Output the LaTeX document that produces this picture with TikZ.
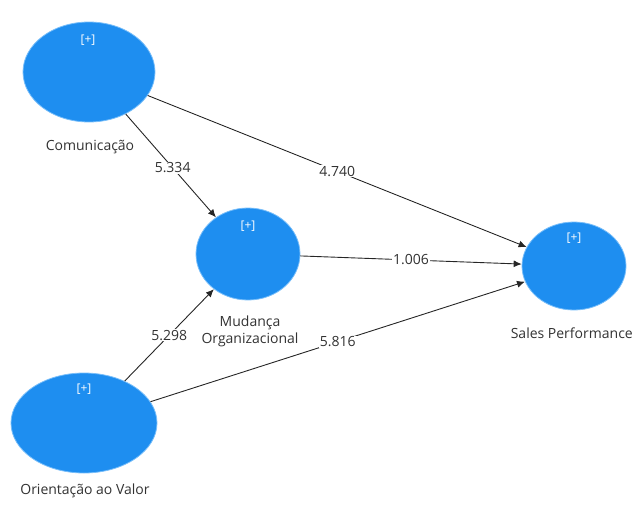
\documentclass[tikz,border=0pt]{standalone}
\usepackage{fontspec}
\setmainfont{Open Sans}
\usetikzlibrary{arrows.meta,shapes.geometric}
\definecolor{lvblue}{RGB}{30,142,240}
\definecolor{lvedge}{RGB}{120,190,250}
\definecolor{txtgray}{RGB}{50,50,50}
\tikzset{
  latent/.style={ellipse, fill=lvblue, draw=lvedge, line width=0.8pt, inner sep=0pt},
  expand/.style={text=white, font=\fontsize{12}{14}\selectfont},
  caption/.style={text=txtgray, font=\fontsize{14}{17}\selectfont, align=center},
  pathline/.style={draw=black!85, line width=0.9pt, -{Latex[length=8pt,width=7pt]}},
  coef/.style={midway, fill=white, inner sep=1pt, text=txtgray, font=\fontsize{14}{15}\selectfont}
}
\begin{document}
\begin{tikzpicture}[x=1pt,y=-1pt]
\useasboundingbox (0,0) rectangle (634,506);
% constructs
\node[latent, minimum width=132pt, minimum height=100pt] (com) at (89,72) {};
\node[latent, minimum width=104pt, minimum height=92pt] (mud) at (248,254) {};
\node[latent, minimum width=104pt, minimum height=88pt] (sal) at (574,266) {};
\node[latent, minimum width=146pt, minimum height=100pt] (ori) at (84,423) {};
% expand markers
\node[expand] (comx) at (88,40) {[+]};
\node[expand] (mudx) at (248,226) {[+]};
\node[expand] (salx) at (574,238) {[+]};
\node[expand] (orix) at (84,389) {[+]};
% construct names
\node[caption] (comlab) at (90,147) {Comunicação};
\node[caption] (mudlab) at (250,331) {Mudança\\Organizacional};
\node[caption, anchor=east, inner xsep=1pt] (sallab) at (634,333) {Sales Performance};
\node[caption] (orilab) at (85,491) {Orientação ao Valor};
% structural paths with path coefficients
\draw[pathline] (com) -- node[coef, pos=0.52] {5.334} (mud);
\draw[pathline] (com) -- node[coef] {4.740} (sal);
\draw[pathline] (mud) -- node[coef] {1.006} (sal);
\draw[pathline] (ori) -- node[coef] {5.298} (mud);
\draw[pathline] (ori) -- node[coef] {5.816} (sal);
\end{tikzpicture}
\end{document}
